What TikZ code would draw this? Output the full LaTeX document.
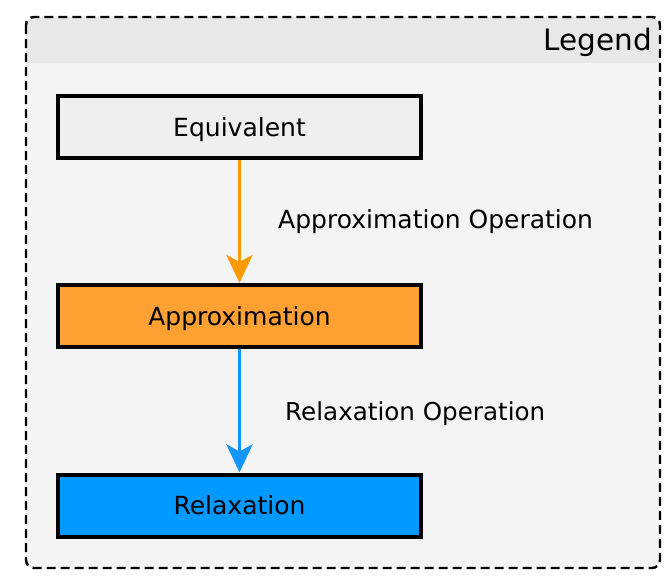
\documentclass[tikz,border=0pt]{standalone}
\usepackage{fontspec}
\setmainfont{DejaVu Sans}
\usetikzlibrary{arrows.meta}
\definecolor{hdrgray}{HTML}{E8E8E8}
\definecolor{bodygray}{HTML}{F4F4F4}
\definecolor{eqfill}{HTML}{EFEFEF}
\definecolor{apfill}{HTML}{FFA033}
\definecolor{rxfill}{HTML}{0099FF}
\definecolor{aparrow}{HTML}{FF9900}
\definecolor{rxarrow}{HTML}{1296FF}
\tikzset{
  stagebox/.style={draw=black, line width=4pt, minimum width=363pt,
    minimum height=62pt, inner sep=0pt, text height=18.2pt, text depth=0pt,
    font=\fontsize{25}{29}\selectfont},
  oplabel/.style={anchor=base west, inner sep=0pt, font=\fontsize{25}{29}\selectfont},
  oparrow/.style={line width=3.8pt, -{Stealth[length=28pt, width=26pt, inset=7pt]}},
}
\begin{document}
\begin{tikzpicture}[x=1pt, y=-1pt]
  \useasboundingbox (0,0) rectangle (667,576);
  % legend frame: light body with a darker header strip
  \begin{scope}
    \clip[rounded corners=8pt] (26,17) rectangle (660,568);
    \fill[bodygray] (26,17) rectangle (660,568);
    \fill[hdrgray] (26,17) rectangle (660,63);
  \end{scope}
  \draw[line width=2.4pt, dash pattern=on 9pt off 5pt, rounded corners=8pt]
    (26,17) rectangle (660,568);
  \node[anchor=base east, inner sep=0pt, font=\fontsize{29.5}{34}\selectfont]
    (title) at (652,50.5) {Legend};

  % stages
  \node[stagebox, fill=eqfill] (eq) at (239.5,127) {Equivalent};
  \node[stagebox, fill=apfill] (ap) at (239.5,316) {Approximation};
  \node[stagebox, fill=rxfill] (rx) at (239.5,505.5) {Relaxation};

  % operations between stages
  \draw[oparrow, aparrow] (eq.south) -- (ap.north);
  \draw[oparrow, rxarrow] (ap.south) -- (rx.north);
  \node[oplabel] (aplbl) at (278,228) {Approximation Operation};
  \node[oplabel, font=\fontsize{24.6}{29}\selectfont] (rxlbl) at (285,420.5) {Relaxation Operation};
\end{tikzpicture}
\end{document}
